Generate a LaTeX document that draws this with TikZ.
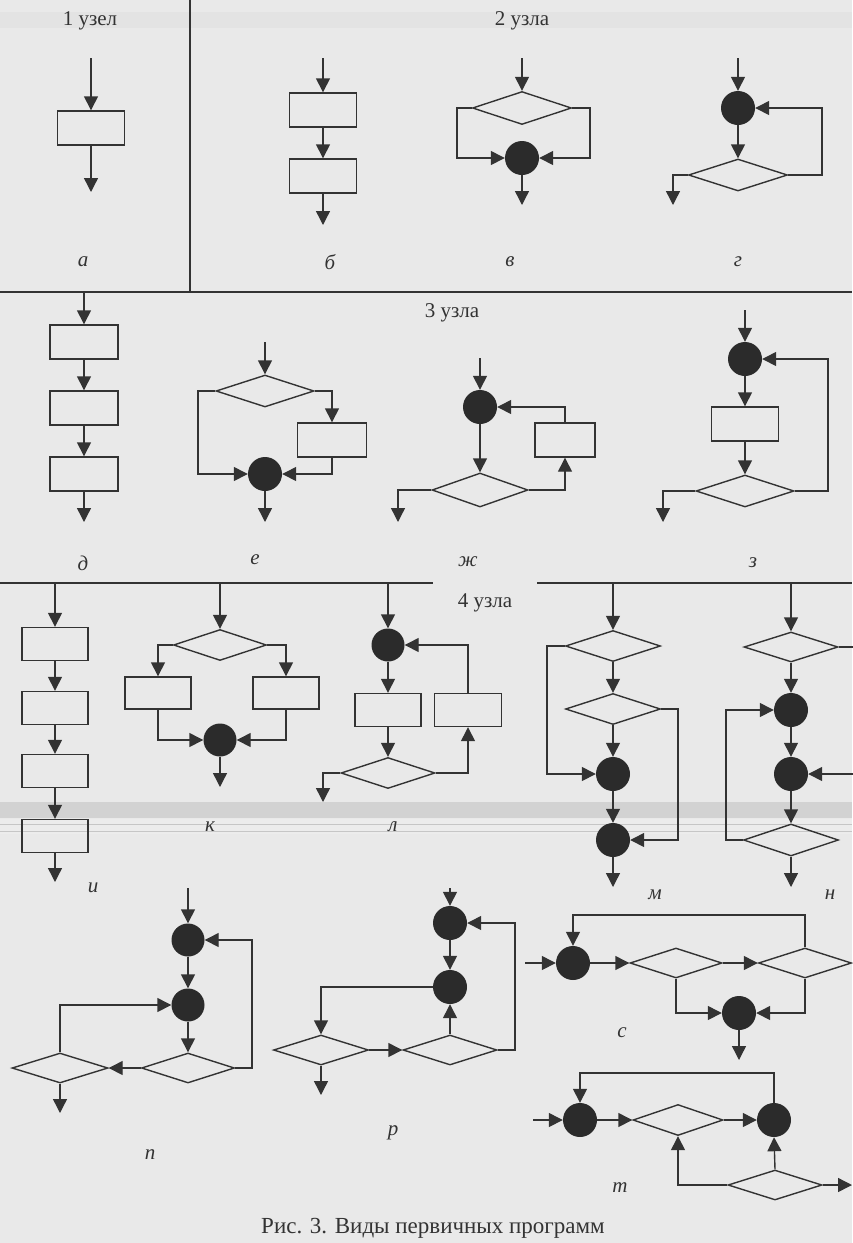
\documentclass[tikz,border=0pt]{standalone}
\usepackage{fontspec}
\setmainfont{Liberation Serif}
\usetikzlibrary{arrows.meta,shapes.geometric}
\definecolor{ink}{HTML}{333333}
\definecolor{dotc}{HTML}{2B2B2B}
\definecolor{paper}{HTML}{E9E9E9}
\tikzset{
  box/.style={draw=ink, rectangle, minimum width=67pt, minimum height=34pt, inner sep=0pt, line width=1.4pt},
  dia/.style={draw=ink, diamond, minimum width=96pt, minimum height=32pt, inner sep=0pt, line width=1.4pt},
  dot/.style={circle, fill=dotc, minimum size=34pt, inner sep=0pt},
  ln/.style={draw=ink, line width=1.4pt},
  arr/.style={-{Triangle[length=14pt,width=14pt]}, draw=ink, line width=1.4pt},
  lab/.style={font=\fontsize{21}{21}\selectfont\itshape, text=ink},
  hd/.style={font=\fontsize{21}{21}\selectfont, text=ink},
}
\begin{document}
\begin{tikzpicture}[x=1pt,y=-1pt]
\fill[paper] (0,0) rectangle (852,1243);
\useasboundingbox (0,0) rectangle (852,1243);
% scan bands
\fill[gray!22] (0,12) rectangle (852,28);
\fill[gray!35] (0,802) rectangle (852,818);
\fill[gray!15] (0,819) rectangle (852,834);
\draw[gray!45, line width=0.8pt] (0,824) -- (852,824);
\draw[gray!45, line width=0.8pt] (0,831) -- (852,831);
% separators
\draw[ln] (190,0) -- (190,292);
\draw[ln] (0,292) -- (852,292);
\draw[ln] (0,583) -- (433,583);
\draw[ln] (537,583) -- (852,583);
% headings
\node[hd] (h1) at (90,21) {1 узел};
\node[hd] (h2) at (522,21) {2 узла};
\node[hd] (h3) at (452,313) {3 узла};
\node[hd] (h4) at (485,603) {4 узла};

% ---- a
\node[box] (a1) at (91,128) {};
\coordinate (a0) at (91,58);
\coordinate (ae) at (91,192);
\draw[arr] (a0) -- (a1.north);
\draw[arr] (a1.south) -- (ae);
\node[lab] (la) at (83,262) {а};

% ---- b
\node[box] (b1) at (323,110) {};
\node[box] (b2) at (323,176) {};
\coordinate (b0) at (323,58);
\coordinate (be) at (323,225);
\draw[arr] (b0) -- (b1.north);
\draw[arr] (b1.south) -- (b2.north);
\draw[arr] (b2.south) -- (be);
\node[lab] (lb) at (330,262) {б};

% ---- v
\node[dia, minimum width=99pt, minimum height=33pt] (v1) at (522,108) {};
\node[dot] (v2) at (522,158) {};
\coordinate (v0) at (522,58);
\coordinate (ve) at (522,205);
\draw[arr] (v0) -- (v1.north);
\draw[arr] (v1.west) -- (457,108) |- (v2.west);
\draw[arr] (v1.east) -- (590,108) |- (v2.east);
\draw[arr] (v2.south) -- (ve);
\node[lab] (lv) at (510,262) {в};

% ---- g
\node[dot] (g1) at (738,108) {};
\node[dia, minimum width=99pt] (g2) at (738,175) {};
\coordinate (g0) at (738,58);
\coordinate (ge) at (673,205);
\draw[arr] (g0) -- (g1.north);
\draw[arr] (g1.south) -- (g2.north);
\draw[arr] (g2.east) -- (822,175) |- (g1.east);
\draw[arr] (g2.west) -| (ge);
\node[lab] (lg) at (738,262) {г};

% ---- d
\node[box, minimum width=68pt] (d1) at (84,342) {};
\node[box, minimum width=68pt] (d2) at (84,408) {};
\node[box, minimum width=68pt] (d3) at (84,474) {};
\coordinate (d0) at (84,292);
\coordinate (de) at (84,522);
\draw[arr] (d0) -- (d1.north);
\draw[arr] (d1.south) -- (d2.north);
\draw[arr] (d2.south) -- (d3.north);
\draw[arr] (d3.south) -- (de);
\node[lab] (ld) at (83,563) {д};

% ---- e
\node[dia, minimum width=98pt] (e1) at (265,391) {};
\node[dot] (e2) at (265,474) {};
\node[box, minimum width=69pt] (e3) at (332,440) {};
\coordinate (e0) at (265,342);
\coordinate (ee) at (265,522);
\draw[arr] (e0) -- (e1.north);
\draw[arr] (e1.west) -- (198,391) |- (e2.west);
\draw[arr] (e1.east) -| (e3.north);
\draw[arr] (e3.south) |- (e2.east);
\draw[arr] (e2.south) -- (ee);
\node[lab] (le) at (255,560) {е};

% ---- zh
\node[dot] (zh1) at (480,407) {};
\node[dia, minimum height=34pt] (zh2) at (480,490) {};
\node[box, minimum width=60pt] (zh3) at (565,440) {};
\coordinate (zh0) at (480,358);
\coordinate (zhe) at (398,522);
\draw[arr] (zh0) -- (zh1.north);
\draw[arr] (zh1.south) -- (zh2.north);
\draw[arr] (zh2.west) -| (zhe);
\draw[arr] (zh2.east) -| (zh3.south);
\draw[arr] (zh3.north) |- (zh1.east);
\node[lab] (lzh) at (468,562) {ж};

% ---- z
\node[dot] (z1) at (745,359) {};
\node[box] (z2) at (745,424) {};
\node[dia, minimum width=98pt] (z3) at (745,491) {};
\coordinate (z0) at (745,310);
\coordinate (ze) at (663,522);
\draw[arr] (z0) -- (z1.north);
\draw[arr] (z1.south) -- (z2.north);
\draw[arr] (z2.south) -- (z3.north);
\draw[arr] (z3.east) -- (828,491) |- (z1.east);
\draw[arr] (z3.west) -| (ze);
\node[lab] (lz) at (753,563) {з};

% ---- i
\node[box, minimum width=66pt, minimum height=33pt] (i1) at (55,644) {};
\node[box, minimum width=66pt, minimum height=33pt] (i2) at (55,708) {};
\node[box, minimum width=66pt, minimum height=33pt] (i3) at (55,771) {};
\node[box, minimum width=66pt, minimum height=33pt] (i4) at (55,836) {};
\coordinate (i0) at (55,583);
\coordinate (ie) at (55,882);
\draw[arr] (i0) -- (i1.north);
\draw[arr] (i1.south) -- (i2.north);
\draw[arr] (i2.south) -- (i3.north);
\draw[arr] (i3.south) -- (i4.north);
\draw[arr] (i4.south) -- (ie);
\node[lab] (li) at (93,888) {и};

% ---- k
\node[dia, minimum width=93pt, minimum height=31pt] (k1) at (220,645) {};
\node[box, minimum width=66pt, minimum height=32pt] (k2) at (158,693) {};
\node[box, minimum width=66pt, minimum height=32pt] (k3) at (286,693) {};
\node[dot, minimum size=33pt] (k4) at (220,740) {};
\coordinate (k0) at (220,583);
\coordinate (ke) at (220,787);
\draw[arr] (k0) -- (k1.north);
\draw[arr] (k1.west) -| (k2.north);
\draw[arr] (k1.east) -| (k3.north);
\draw[arr] (k2.south) |- (k4.west);
\draw[arr] (k3.south) |- (k4.east);
\draw[arr] (k4.south) -- (ke);
\node[lab] (lk) at (210,827) {к};

% ---- l
\node[dot, minimum size=33pt] (l1) at (388,645) {};
\node[box, minimum width=66pt, minimum height=33pt] (l2) at (388,710) {};
\node[box, minimum width=67pt, minimum height=33pt] (l3) at (468,710) {};
\node[dia, minimum width=94pt, minimum height=31pt] (l4) at (388,773) {};
\coordinate (l0) at (388,583);
\coordinate (le) at (323,802);
\draw[arr] (l0) -- (l1.north);
\draw[arr] (l1.south) -- (l2.north);
\draw[arr] (l2.south) -- (l4.north);
\draw[arr] (l4.west) -| (le);
\draw[arr] (l4.east) -| (l3.south);
\draw[arr] (l3.north) |- (l1.east);
\node[lab] (ll) at (393,827) {л};

% ---- m
\node[dia, minimum width=95pt, minimum height=31pt] (m1) at (613,646) {};
\node[dia, minimum width=95pt, minimum height=31pt] (m2) at (613,709) {};
\node[dot] (m3) at (613,774) {};
\node[dot] (m4) at (613,840) {};
\coordinate (m0) at (613,583);
\coordinate (me) at (613,887);
\draw[arr] (m0) -- (m1.north);
\draw[arr] (m1.south) -- (m2.north);
\draw[arr] (m2.south) -- (m3.north);
\draw[arr] (m3.south) -- (m4.north);
\draw[arr] (m4.south) -- (me);
\draw[arr] (m1.west) -- (547,646) |- (m3.west);
\draw[arr] (m2.east) -- (678,709) |- (m4.east);
\node[lab] (lm) at (655,895) {м};

% ---- n
\node[dia, minimum width=94pt, minimum height=30pt] (n1) at (791,647) {};
\node[dot] (n2) at (791,710) {};
\node[dot] (n3) at (791,774) {};
\node[dia, minimum width=95pt, minimum height=32pt] (n4) at (791,840) {};
\coordinate (n0) at (791,583);
\coordinate (ne) at (791,887);
\draw[arr] (n0) -- (n1.north);
\draw[arr] (n1.south) -- (n2.north);
\draw[arr] (n2.south) -- (n3.north);
\draw[arr] (n3.south) -- (n4.north);
\draw[arr] (n4.south) -- (ne);
\draw[arr] (n4.west) -- (726,840) |- (n2.west);
\draw[arr] (n1.east) -- (862,647) |- (n3.east);
\node[lab] (lnn) at (830,895) {н};

% ---- p
\node[dot, minimum size=33pt] (p1) at (188,940) {};
\node[dot, minimum size=33pt] (p2) at (188,1005) {};
\node[dia, minimum width=93pt, minimum height=30pt] (p3) at (188,1068) {};
\node[dia, minimum width=96pt, minimum height=30pt] (p4) at (60,1068) {};
\coordinate (p0) at (188,888);
\coordinate (pe) at (60,1113);
\draw[arr] (p0) -- (p1.north);
\draw[arr] (p1.south) -- (p2.north);
\draw[arr] (p2.south) -- (p3.north);
\draw[arr] (p3.east) -- (252,1068) |- (p1.east);
\draw[arr] (p3.west) -- (p4.east);
\draw[arr] (p4.north) |- (p2.west);
\draw[arr] (p4.south) -- (pe);
\node[lab] (lp) at (150,1155) {п};

% ---- r
\node[dot] (r1) at (450,923) {};
\node[dot] (r2) at (450,987) {};
\node[dia, minimum width=95pt, minimum height=30pt] (r3) at (321,1050) {};
\node[dia, minimum width=94pt, minimum height=30pt] (r4) at (450,1050) {};
\coordinate (r0) at (450,888);
\coordinate (re) at (321,1095);
\draw[arr] (r0) -- (r1.north);
\draw[arr] (r1.south) -- (r2.north);
\draw[arr] (r2.west) -| (r3.north);
\draw[arr] (r3.east) -- (r4.west);
\draw[arr] (r4.north) -- (r2.south);
\draw[arr] (r4.east) -- (515,1050) |- (r1.east);
\draw[arr] (r3.south) -- (re);
\node[lab] (lr) at (393,1133) {р};

% ---- s
\node[dot] (s1) at (573,963) {};
\node[dia, minimum width=92pt, minimum height=30pt] (s2) at (676,963) {};
\node[dia, minimum width=93pt, minimum height=30pt] (s3) at (805,963) {};
\node[dot] (s4) at (739,1013) {};
\coordinate (s0) at (525,963);
\coordinate (se) at (739,1060);
\draw[arr] (s0) -- (s1.west);
\draw[arr] (s1.east) -- (s2.west);
\draw[arr] (s2.east) -- (s3.west);
\draw[arr] (s3.north) -- (805,915) -| (s1.north);
\draw[arr] (s2.south) |- (s4.west);
\draw[arr] (s3.south) |- (s4.east);
\draw[arr] (s4.south) -- (se);
\node[lab] (ls) at (622,1033) {с};

% ---- t
\node[dot] (t1) at (580,1120) {};
\node[dia, minimum width=90pt, minimum height=31pt] (t2) at (678,1120) {};
\node[dot] (t3) at (774,1120) {};
\node[dia, minimum width=94pt, minimum height=30pt] (t4) at (775,1185) {};
\coordinate (t0) at (533,1120);
\coordinate (te) at (852,1185);
\draw[arr] (t0) -- (t1.west);
\draw[arr] (t1.east) -- (t2.west);
\draw[arr] (t2.east) -- (t3.west);
\draw[arr] (t4.north) -- (t3.south);
\draw[arr] (t4.west) -| (t2.south);
\draw[arr] (t4.east) -- (te);
\draw[arr] (t3.north) -- (774,1073) -| (t1.north);
\node[lab] (lt) at (620,1188) {т};

% caption
\node[font=\fontsize{23}{23}\selectfont, text=ink] (cap) at (433,1228) {Рис. 3. Виды первичных программ};
\end{tikzpicture}
\end{document}
